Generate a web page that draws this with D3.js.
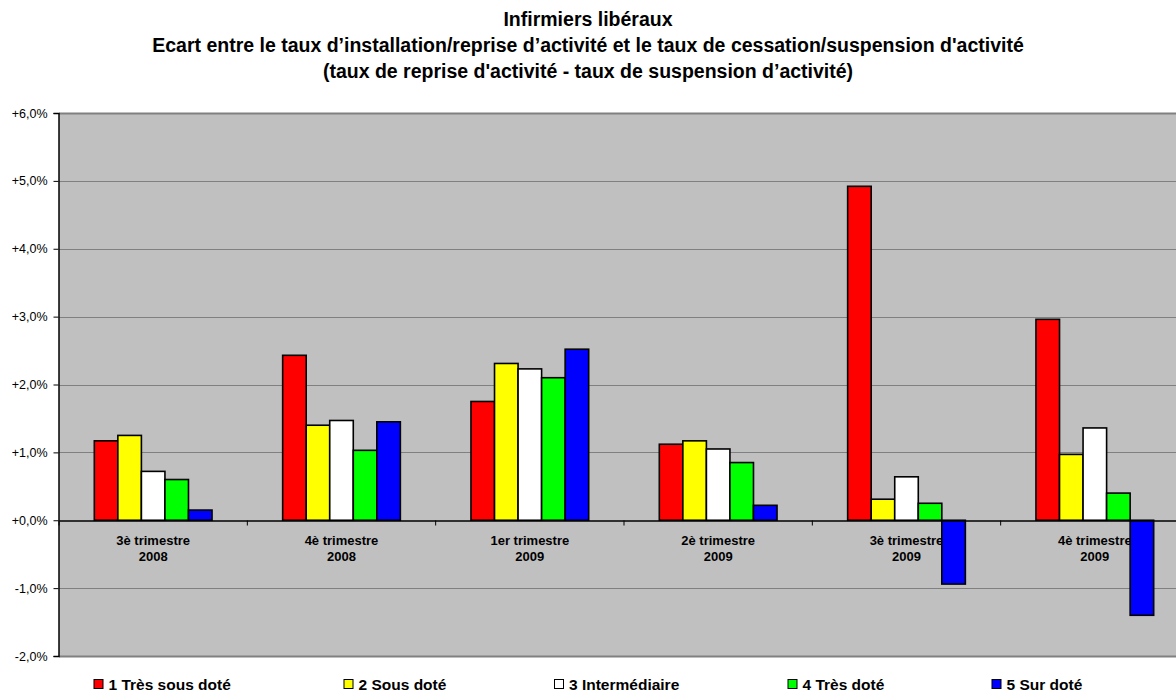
<!DOCTYPE html>
<html>
<head>
<meta charset="utf-8">
<script src="https://cdn.jsdelivr.net/npm/d3@7"></script>
<style>
  html, body { margin: 0; padding: 0; background: #fff; }
  svg { display: block; font-family: "Liberation Sans", Arial, sans-serif; }
</style>
</head>
<body>
<svg id="chart" width="1176" height="694"></svg>
<script>
// ---- data ----
const titleLines = [
  "Infirmiers libéraux",
  "Ecart entre le taux d’installation/reprise d’activité et le taux de cessation/suspension d'activité",
  "(taux de reprise d'activité - taux de suspension d’activité)"
];
const categories = ["3è trimestre|2008", "4è trimestre|2008", "1er trimestre|2009", "2è trimestre|2009", "3è trimestre|2009", "4è trimestre|2009"];
const seriesNames = ["1 Très sous doté", "2 Sous doté", "3 Intermédiaire", "4 Très doté", "5 Sur doté"];
const seriesColors = ["#FF0000", "#FFFF00", "#FFFFFF", "#00FF00", "#0000FF"];
const tresSousDote = [1.17, 2.43, 1.75, 1.12, 4.92, 2.96];
const sousDote     = [1.25, 1.40, 2.31, 1.17, 0.31, 0.97];
const intermediaire= [0.72, 1.47, 2.23, 1.05, 0.64, 1.36];
const tresDote     = [0.60, 1.03, 2.10, 0.85, 0.25, 0.40];
const surDote      = [0.15, 1.45, 2.52, 0.22, -0.94, -1.40];
const yTicks = [-2, -1, 0, 1, 2, 3, 4, 5, 6];

const seriesValues = [tresSousDote, sousDote, intermediaire, tresDote, surDote];

// ---- layout ----
const svg = d3.select("#chart");
const plotLeft = 59, plotRight = 1189, plotTop = 113, plotBottom = 656;

const x = d3.scaleBand().domain(categories).range([plotLeft, plotRight]).paddingInner(0).paddingOuter(0);
const bw = x.bandwidth();
const xs = d3.scaleBand().domain(seriesNames).range([bw * 1.5 / 8, bw * 6.5 / 8]).padding(0);
const y = d3.scaleLinear().domain([-2, 6]).range([plotBottom, plotTop]);

// title
svg.append("g").selectAll("text").data(titleLines).join("text")
  .attr("x", 588).attr("y", (d, i) => 26 + i * 26)
  .attr("text-anchor", "middle").attr("font-size", 19.5).attr("font-weight", "bold").attr("fill", "#000")
  .text(d => d);

// plot background
svg.append("rect").attr("x", plotLeft).attr("y", plotTop)
  .attr("width", plotRight - plotLeft).attr("height", plotBottom - plotTop).attr("fill", "#C0C0C0");

// gridlines
svg.append("g").selectAll("line").data(yTicks.filter(t => t !== 0)).join("line")
  .attr("x1", plotLeft).attr("x2", plotRight)
  .attr("y1", d => Math.round(y(d)) + 0.5).attr("y2", d => Math.round(y(d)) + 0.5)
  .attr("stroke", "#808080").attr("stroke-width", d => (d === 6 || d === -2) ? 2 : 1.2);

// category labels (drawn under bars)
const catG = svg.append("g");
categories.forEach(c => {
  const parts = c.split("|");
  const t = catG.append("text").attr("text-anchor", "middle").attr("font-size", 13)
    .attr("font-weight", "bold").attr("fill", "#000");
  parts.forEach((p, i) => {
    t.append("tspan").attr("x", x(c) + bw / 2).attr("y", 544.5 + i * 16).text(p);
  });
});

// bars
const barG = svg.append("g");
seriesNames.forEach((s, si) => {
  barG.selectAll(null).data(categories).join("rect")
    .attr("x", c => x(c) + xs(s))
    .attr("width", xs.bandwidth())
    .attr("y", (c, ci) => y(Math.max(0, seriesValues[si][ci])))
    .attr("height", (c, ci) => Math.abs(y(seriesValues[si][ci]) - y(0)))
    .attr("fill", seriesColors[si])
    .attr("stroke", "#000").attr("stroke-width", 1.6);
});

// x axis (zero line) with category ticks
const xAxis = d3.axisBottom(x).tickSize(0).tickFormat("");
const xg = svg.append("g").attr("transform", `translate(0,${Math.round(y(0)) + 0.5})`).call(xAxis);
xg.select(".domain").attr("stroke", "#000").attr("stroke-width", 1.5);
xg.selectAll(".tick").remove();
xg.selectAll("line.cat").data(categories.concat(["__end"])).join("line").attr("class", "cat")
  .attr("x1", (c, i) => plotLeft + i * bw).attr("x2", (c, i) => plotLeft + i * bw)
  .attr("y1", 0).attr("y2", 5).attr("stroke", "#000");

// y axis
const fmt = v => (v < 0 ? "-" : "+") + d3.format(".1f")(Math.abs(v)).replace(".", ",") + "%";
const yAxis = d3.axisLeft(y).tickValues(yTicks).tickSize(5).tickPadding(6).tickFormat(fmt);
const yg = svg.append("g").attr("transform", `translate(${plotLeft - 0.5},0)`).call(yAxis);
yg.select(".domain").attr("stroke", "#000").attr("stroke-width", 1.5);
yg.selectAll(".tick line").attr("stroke", "#000");
yg.selectAll(".tick text").attr("font-size", 12.5).attr("fill", "#000")
  .attr("font-family", "'Liberation Sans', Arial, sans-serif");

// legend
const legendX = [93.5, 343.5, 554, 787.5, 991.5];
const lg = svg.append("g").selectAll("g").data(seriesNames).join("g")
  .attr("transform", (d, i) => `translate(${legendX[i]},679)`);
lg.append("rect").attr("x", 0.5).attr("y", 0.5).attr("width", 9).attr("height", 9)
  .attr("fill", (d, i) => seriesColors[i]).attr("stroke", "#000").attr("stroke-width", 1);
lg.append("text").attr("x", 15).attr("y", 10.5).attr("font-size", 15.5).attr("font-weight", "bold")
  .attr("fill", "#000").text(d => d);
</script>
</body>
</html>
